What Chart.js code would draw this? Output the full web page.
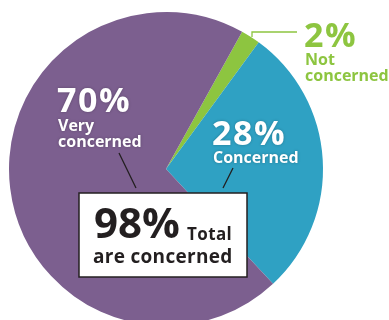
<!DOCTYPE html>
<html>
<head>
<meta charset="utf-8">
<script src="https://cdn.jsdelivr.net/npm/chart.js@4"></script>
<style>
  html, body { margin: 0; padding: 0; background: #fff; overflow: hidden; }
  #wrap { position: relative; width: 389px; height: 340px; }
</style>
</head>
<body>
<div id="wrap"><canvas id="pie"></canvas></div>
<script>
// values, clockwise from the top-right wedge
const labels = ['Not concerned', 'Concerned', 'Very concerned']
const values = [2, 28, 70]
const colors = ['#8DC540', '#2FA1C3', '#7C5F8F']
const totalLabel = ['98%', 'Total', 'are concerned']

const INK = '#231F20'
const FONT = '"Open Sans", "DejaVu Sans", sans-serif'

// leader lines, labels and the total box
const labelPlugin = {
    id: 'labels',
    afterDraw(chart) {
        const ctx = chart.ctx
        ctx.save()

        // leader lines
        ctx.lineWidth = 1.3
        ctx.strokeStyle = INK
        ctx.beginPath()
        ctx.moveTo(119, 153); ctx.lineTo(136, 188)
        ctx.moveTo(233, 168); ctx.lineTo(223, 188)
        ctx.stroke()

        ctx.strokeStyle = colors[0]
        ctx.beginPath()
        ctx.moveTo(252, 37); ctx.lineTo(252, 32); ctx.lineTo(297, 32)
        ctx.stroke()

        // slice labels
        ctx.textBaseline = 'alphabetic'
        ctx.textAlign = 'left'
        const pct = v => v + '%'
        const big = '700 34px ' + FONT
        const small = '700 16px ' + FONT

        ctx.shadowColor = 'rgba(0,0,0,0.25)'
        ctx.shadowBlur = 3
        ctx.fillStyle = '#fff'
        ctx.font = big
        ctx.letterSpacing = '1.5px'
        ctx.fillText(pct(values[2]), 57, 112)
        ctx.fillText(pct(values[1]), 212, 145)
        ctx.letterSpacing = '0px'
        ctx.font = small
        ctx.fillText('Very', 58, 131)
        ctx.fillText('concerned', 58, 147)
        ctx.fillText('Concerned', 213, 163)

        ctx.shadowBlur = 0
        ctx.shadowColor = 'transparent'
        ctx.fillStyle = colors[0]
        ctx.font = big
        ctx.letterSpacing = '1.5px'
        ctx.fillText(pct(values[0]), 304, 47)
        ctx.letterSpacing = '0px'
        ctx.font = small
        ctx.fillText('Not', 305, 65)
        ctx.fillText('concerned', 305, 81)

        // total box
        ctx.fillStyle = '#fff'
        ctx.fillRect(79, 193, 168, 84)
        ctx.lineWidth = 1.5
        ctx.strokeStyle = INK
        ctx.strokeRect(79, 193, 168, 84)

        ctx.fillStyle = INK
        ctx.font = '700 42px ' + FONT
        ctx.fillText(totalLabel[0], 94, 238)
        ctx.font = '700 17px ' + FONT
        ctx.letterSpacing = '0.4px'
        ctx.fillText(totalLabel[1], 187, 240)
        ctx.font = '700 19px ' + FONT
        ctx.letterSpacing = '0.3px'
        ctx.fillText(totalLabel[2], 93, 263)

        ctx.restore()
    }
}

const ctx = document.getElementById('pie').getContext('2d')
new Chart(ctx, {
    type: 'pie',
    data: {
        labels: labels,
        datasets: [{
            data: values,
            backgroundColor: colors,
            borderWidth: 0,
            hoverOffset: 0,
            offset: 0
        }]
    },
    options: {
        responsive: true,
        maintainAspectRatio: false,
        animation: false,
        rotation: 29,
        layout: { padding: { left: 9, right: 66, top: 12, bottom: 14 } },
        plugins: {
            legend: { display: false },
            tooltip: { enabled: false }
        }
    },
    plugins: [labelPlugin]
})
</script>
</body>
</html>
